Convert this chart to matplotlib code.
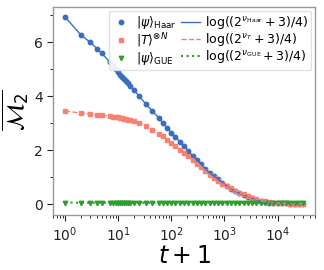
import matplotlib
matplotlib.use("Agg")
import matplotlib.pyplot as plt
from matplotlib.ticker import MultipleLocator

# t+1 sample points
t1 = [1, 2, 3, 4, 5, 7, 8, 9, 10, 11, 12, 13, 14, 15, 17, 20, 25, 33, 44, 58,
      69, 83, 100, 120, 145, 174, 209, 251, 302, 363, 437, 525, 631, 759, 912,
      1096, 1318, 1585, 1905, 2291, 2754, 3311, 3981, 4786, 5754, 6918, 8318,
      10000, 12023, 14454, 17378, 20893, 25119, 30200]

m2_haar = [6.93, 6.26, 5.99, 5.76, 5.58, 5.25, 5.12, 5.00, 4.89, 4.80, 4.71, 4.63,
           4.56, 4.49, 4.36, 4.21, 4.00, 3.71, 3.45, 3.20,
           3.01, 2.82, 2.65, 2.48, 2.31, 2.14, 1.97, 1.80, 1.64, 1.48, 1.31, 1.16,
           1.04, 0.92, 0.80, 0.68, 0.57, 0.48, 0.41, 0.34, 0.28, 0.22, 0.16, 0.11,
           0.08, 0.06, 0.05, 0.04, 0.03, 0.03, 0.02, 0.02, 0.02, 0.02]

m2_t = [3.45, 3.37, 3.34, 3.31, 3.29, 3.26, 3.24, 3.23, 3.21, 3.19, 3.18, 3.16,
        3.15, 3.13, 3.10, 3.06, 2.99, 2.88, 2.76, 2.61,
        2.52, 2.39, 2.27, 2.15, 2.02, 1.90, 1.77, 1.63, 1.49, 1.36, 1.21, 1.07,
        0.95, 0.84, 0.75, 0.67, 0.58, 0.50, 0.43, 0.36, 0.29, 0.23, 0.18, 0.13,
        0.10, 0.07, 0.05, 0.04, 0.03, 0.03, 0.02, 0.02, 0.02, 0.02]

m2_gue = [0.06, 0.05, 0.05, 0.05, 0.05, 0.05, 0.05, 0.05, 0.05, 0.05, 0.05, 0.05,
          0.05, 0.05, 0.05, 0.05, 0.05, 0.05, 0.05, 0.05,
          0.05, 0.05, 0.05, 0.05, 0.05, 0.05, 0.05, 0.05, 0.05, 0.05, 0.05, 0.05,
          0.05, 0.05, 0.04, 0.04, 0.04, 0.04, 0.04, 0.04, 0.04, 0.04, 0.04, 0.04,
          0.04, 0.04, 0.04, 0.04, 0.04, 0.04, 0.04, 0.04, 0.04, 0.04]

c_blue = "#3a6fbf"
c_red = "#f98172"
c_green = "#2ca02c"

fig = plt.figure(figsize=(3.24, 2.70), dpi=100)
ax = fig.add_axes([0.164, 0.204, 0.808, 0.770])

p1, = ax.plot(t1, m2_haar, "o", color=c_blue, ms=3.2, ls="none")
p2, = ax.plot(t1, m2_t, "s", color=c_red, ms=3, ls="none")
p3, = ax.plot(t1, m2_gue, "v", color=c_green, ms=3.2, ls="none")
l1, = ax.plot(t1, m2_haar, "-", color=c_blue, lw=1.0)
l2, = ax.plot(t1, m2_t, "--", color=c_red, lw=1.0)
l3, = ax.plot(t1, m2_gue, ":", color=c_green, lw=1.5)

ax.set_xscale("log")
ax.set_ylim(-0.4, 7.3)
ax.yaxis.set_major_locator(MultipleLocator(2))
ax.yaxis.set_minor_locator(MultipleLocator(1))
ax.tick_params(labelsize=10, length=4, width=0.8, colors="#222222")
ax.tick_params(which="minor", length=2.5, width=0.6)
for s in ax.spines.values():
    s.set_color("#999999")
    s.set_linewidth(1.0)

ax.set_xlabel(r"$t+1$", fontsize=17, labelpad=0)
ax.set_ylabel(r"$\overline{\mathcal{M}_2}$", fontsize=17, labelpad=2)

handles = [p1, p2, p3, l1, l2, l3]
labels = [r"$|\psi\rangle_{\mathrm{Haar}}$", r"$|T\rangle^{\otimes N}$",
          r"$|\psi\rangle_{\mathrm{GUE}}$",
          r"$\log((2^{\nu_{\mathrm{Haar}}}+3)/4)$",
          r"$\log((2^{\nu_{T}}+3)/4)$",
          r"$\log((2^{\nu_{\mathrm{GUE}}}+3)/4)$"]
ax.legend(handles, labels, ncol=2, loc="upper right", fontsize=9,
          handlelength=1.5, handletextpad=0.4, columnspacing=0.4,
          labelspacing=0.02, borderpad=0.25, borderaxespad=0.3,
          frameon=True, framealpha=0.9, edgecolor="#dddddd")

fig.savefig("out.png", dpi=100)
